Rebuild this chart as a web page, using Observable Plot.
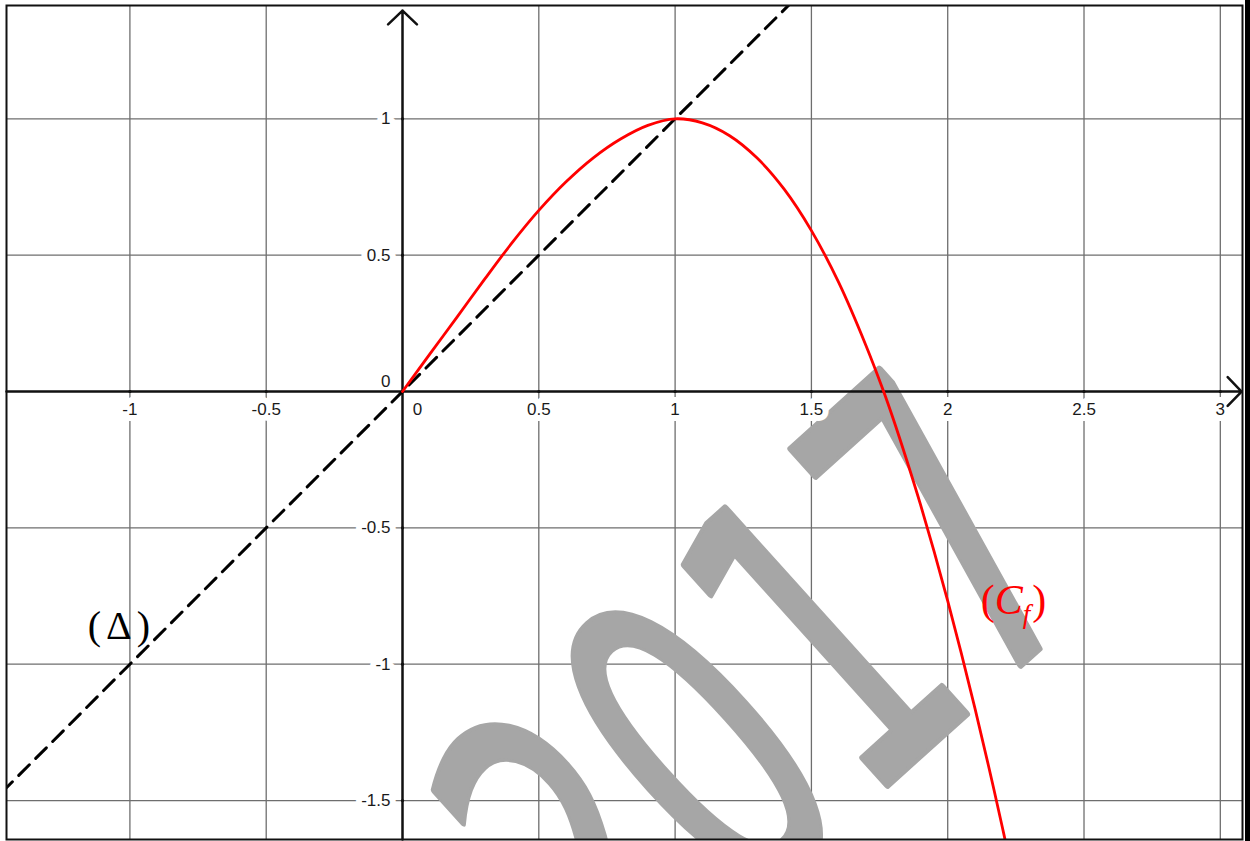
<!DOCTYPE html>
<html><head><meta charset="utf-8">
<script src="https://cdn.jsdelivr.net/npm/d3@7"></script>
<script src="https://cdn.jsdelivr.net/npm/@observablehq/plot@0.6"></script>
<style>
html,body{margin:0;padding:0;background:#fff;}
#wrap{position:relative;width:1250px;height:841px;overflow:hidden;background:#fff;}
#wrap svg{display:block;}
#edge{position:absolute;left:1245px;top:0;width:5px;height:841px;background:#000;}
</style></head><body><div id="wrap"><div id="edge"></div></div>
<script>
// grid / tick values
const xGrid = [-1, -0.5, 0.5, 1, 1.5, 2, 2.5, 3];
const yGrid = [-1.5, -1, -0.5, 0.5, 1];
const xTickValues = [-1, -0.5, 0.5, 1, 1.5, 2, 2.5, 3];
const xTickLabels = ["-1", "-0.5", "0.5", "1", "1.5", "2", "2.5", "3"];
const yTickValues = [-1.5, -1, -0.5, 0.5, 1];
const yTickLabels = ["-1.5", "-1", "-0.5", "0.5", "1"];
const originLabel = ["0"];
// curve (C_f)
const curveX = [0, 0.1, 0.2, 0.3, 0.4, 0.5, 0.6, 0.7, 0.8, 0.9, 1.0, 1.1, 1.2, 1.3, 1.4, 1.5, 1.6, 1.7, 1.765, 1.8, 1.85, 1.9, 1.95, 2.0, 2.05, 2.1, 2.15, 2.2, 2.22];
const curveY = [0, 0.137, 0.273, 0.41, 0.543, 0.664, 0.769, 0.857, 0.926, 0.976, 1.0, 0.985, 0.938, 0.857, 0.742, 0.59, 0.40, 0.169, 0, -0.10, -0.253, -0.414, -0.586, -0.768, -0.96, -1.162, -1.374, -1.596, -1.688];
// line (Δ): y = x
const deltaX = [-1.47, 1.43];
// labels
const labelNames = ["(Δ)", "(Cf)"];
const labelX = [-1.031, 2.241];
const labelY = [-0.862, -0.766];
const watermarkText = ["2017"];
const watermarkX = [1.35];
const watermarkY = [-1.148];

const xDomain = [-1.4527, 3.0814];
const yDomain = [-1.6428, 1.4155];
const xArrowEnd = 3.078, yArrowEnd = 1.397;

const curve = curveX.map((x, i) => ({x, y: curveY[i]}));
const xt = xTickValues.map((v, i) => ({v, t: xTickLabels[i]}));
const yt = yTickValues.map((v, i) => ({v, t: yTickLabels[i]}));
const allXT = [...xTickValues];
const allYT = [...yTickValues];

const tickFont = {fontFamily: "Liberation Sans, Arial, sans-serif", fontSize: 17, fill: "#1a1a1a"};

const svg = Plot.plot({
  width: 1250, height: 841,
  marginLeft: 6, marginRight: 8, marginTop: 5, marginBottom: 2,
  x: {domain: xDomain, axis: null},
  y: {domain: yDomain, axis: null},
  style: {background: "white", overflow: "visible"},
  marks: [
    Plot.ruleX(xGrid, {stroke: "#6e6e6e", strokeWidth: 1.3}),
    Plot.ruleY(yGrid, {stroke: "#6e6e6e", strokeWidth: 1.3}),
    Plot.text(watermarkText, {x: () => watermarkX[0], y: () => watermarkY[0], text: d => d,
      rotate: -42, fontSize: 430, fontFamily: "DejaVu Sans", fill: "#a6a6a6",
      stroke: "#a6a6a6", strokeWidth: 8, strokeLinejoin: "round", textAnchor: "middle", lineAnchor: "middle",
      clip: true}),
    Plot.text(xt, {x: "v", y: () => 0, text: "t", dy: 18, lineAnchor: "middle", textAnchor: "middle",
      stroke: "white", strokeWidth: 12, ...tickFont}),
    Plot.text(originLabel, {x: () => 0, y: () => 0, text: d => d, dx: 15, dy: 18, lineAnchor: "middle",
      textAnchor: "middle", stroke: "white", strokeWidth: 10, ...tickFont}),
    Plot.text(yt, {x: () => 0, y: "v", text: "t", dx: -12, textAnchor: "end", lineAnchor: "middle",
      stroke: "white", strokeWidth: 12, ...tickFont}),
    Plot.text(originLabel, {x: () => 0, y: () => 0, text: d => d, dx: -12, dy: -10, textAnchor: "end",
      lineAnchor: "middle", ...tickFont}),
    Plot.arrow([0], {x1: () => xDomain[0], y1: () => 0, x2: () => xArrowEnd, y2: () => 0,
      stroke: "#111", strokeWidth: 2.5, headLength: 12, headAngle: 92}),
    Plot.arrow([0], {x1: () => 0, y1: () => yDomain[0], x2: () => 0, y2: () => yArrowEnd,
      stroke: "#111", strokeWidth: 2.5, headLength: 12, headAngle: 92}),
    Plot.dot(allXT, {x: d => d, y: () => 0, r: 1.6, fill: "#111"}),
    Plot.dot(allYT, {x: () => 0, y: d => d, r: 1.6, fill: "#111"}),
    Plot.line(deltaX, {x: d => d, y: d => d, stroke: "#000", strokeWidth: 3, strokeDasharray: "15,9", clip: true}),
    Plot.line(curve, {x: "x", y: "y", stroke: "#ff0000", strokeWidth: 2.8, curve: "catmull-rom", clip: true}),
    Plot.text([labelNames[0]], {x: () => labelX[0], y: () => labelY[0], text: d => d, fontSize: 40,
      fontFamily: "Liberation Serif, Times New Roman, serif", fill: "#000", textAnchor: "middle",
      lineAnchor: "middle"}),
    Plot.text([labelNames[1]], {x: () => labelX[1], y: () => labelY[1], text: d => d, fontSize: 42,
      fontFamily: "Liberation Serif, Times New Roman, serif", fill: "#ff0000", textAnchor: "middle",
      lineAnchor: "middle"}),
    Plot.frame({stroke: "#111", strokeWidth: 2})
  ]
});
document.getElementById("wrap").insertBefore(svg, document.getElementById("edge"));

const texts = d3.select(svg).selectAll("text");
texts.each(function() {
  const s = d3.select(this);
  const txt = this.textContent;
  if (txt === watermarkText[0]) {
    // condensed watermark glyphs
    const t = this.getAttribute("transform") || "";
    this.setAttribute("transform", t + " scale(0.6,1)");
  } else if (txt === labelNames[0]) {
    s.style("letter-spacing", "5px");
  } else if (txt === labelNames[1]) {
    s.text(null);
    s.append("tspan").text(txt.slice(0, 1));
    s.append("tspan").attr("font-style", "italic").text(txt.slice(1, 2));
    s.append("tspan").attr("font-style", "italic").attr("font-size", 27).attr("dy", 9).text(txt.slice(2, 3));
    s.append("tspan").attr("dy", -9).attr("dx", 2).text(txt.slice(3));
  }
});
</script></body></html>
